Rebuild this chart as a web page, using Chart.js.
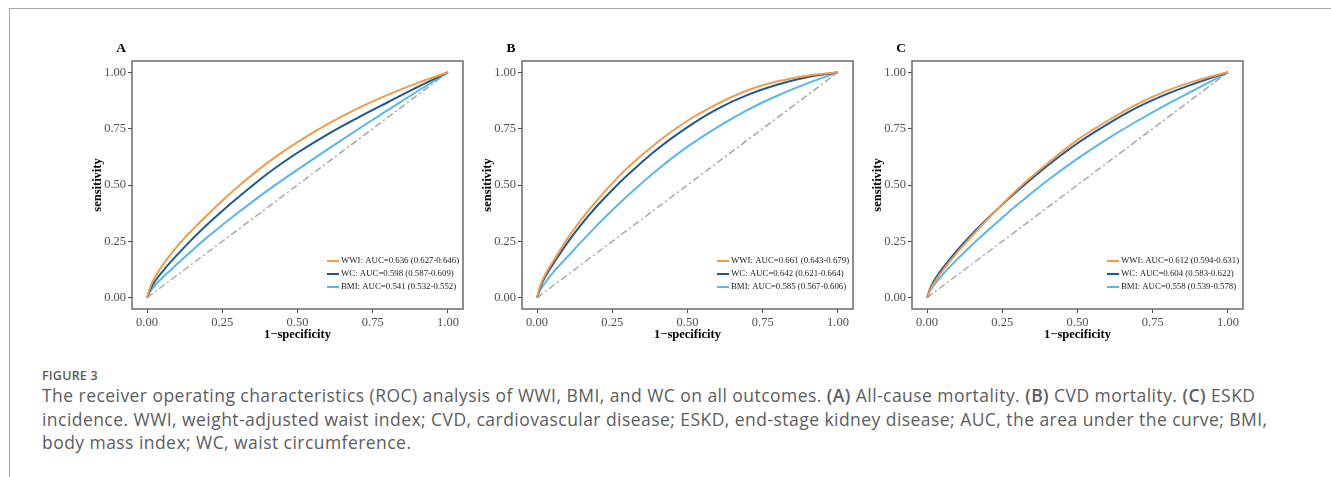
<!DOCTYPE html>
<html>
<head>
<meta charset="utf-8">
<script src="https://cdn.jsdelivr.net/npm/chart.js@4.4.1/dist/chart.umd.min.js"></script>
<style>
  body { margin: 0; background: #fff; width: 1331px; height: 477px; overflow: hidden; position: relative; }
  .frame { position: absolute; left: 9px; top: 8px; width: 1340px; height: 480px; border-top: 1.5px solid #a8a8a8; border-left: 1.5px solid #a8a8a8; }
  .panel { position: absolute; top: 38px; }
  .cap-head { position: absolute; left: 42px; top: 367px; font-family: "Open Sans", sans-serif; font-size: 12.5px; font-weight: 600; color: #58595b; letter-spacing: 0.2px; }
  .cap { position: absolute; left: 42px; top: 384px; white-space: nowrap; font-family: "Open Sans", sans-serif; font-size: 17.5px; letter-spacing: 0.45px; line-height: 23.5px; color: #5b5c5e; }
  .cap b { font-weight: 600; }
</style>
</head>
<body>
<div class="frame"></div>
<canvas id="chartA" class="panel" style="left:85px" width="388" height="307"></canvas>
<canvas id="chartB" class="panel" style="left:475px" width="388" height="307"></canvas>
<canvas id="chartC" class="panel" style="left:865px" width="388" height="307"></canvas>
<div class="cap-head">FIGURE 3</div>
<div class="cap">The receiver operating characteristics (ROC) analysis of WWI, BMI, and WC on all outcomes. <b>(A)</b> All-cause mortality. <b>(B)</b> CVD mortality. <b>(C)</b> ESKD<br>incidence. WWI, weight-adjusted waist index; CVD, cardiovascular disease; ESKD, end-stage kidney disease; AUC, the area under the curve; BMI,<br>body mass index; WC, waist circumference.</div>
<script>
// false positive rate (1 - specificity) grid
var fprGrid = [0, 0.01, 0.03, 0.06, 0.1, 0.15, 0.2, 0.25, 0.3, 0.4, 0.5, 0.6, 0.7, 0.8, 0.9, 1];
var tickVals = [0, 0.25, 0.5, 0.75, 1];

// panel A - all-cause mortality
var wwiA = [0, 0.045, 0.10, 0.16, 0.228, 0.30, 0.367, 0.43, 0.49, 0.598, 0.69, 0.77, 0.84, 0.90, 0.953, 1];
var wcA  = [0, 0.035, 0.08, 0.13, 0.19, 0.26, 0.325, 0.385, 0.442, 0.55, 0.643, 0.725, 0.798, 0.867, 0.935, 1];
var bmiA = [0, 0.027, 0.06, 0.10, 0.15, 0.21, 0.268, 0.323, 0.375, 0.475, 0.568, 0.658, 0.746, 0.832, 0.917, 1];
var legendA = ["WWI: AUC=0.636 (0.627-0.646)", "WC: AUC=0.598 (0.587-0.609)", "BMI: AUC=0.541 (0.532-0.552)"];

// panel B - CVD mortality
var wwiB = [0, 0.05, 0.11, 0.175, 0.26, 0.352, 0.433, 0.507, 0.575, 0.69, 0.785, 0.86, 0.92, 0.96, 0.985, 1];
var wcB  = [0, 0.045, 0.10, 0.163, 0.242, 0.33, 0.408, 0.478, 0.543, 0.66, 0.757, 0.838, 0.90, 0.946, 0.979, 1];
var bmiB = [0, 0.032, 0.072, 0.122, 0.18, 0.252, 0.322, 0.388, 0.451, 0.568, 0.67, 0.757, 0.833, 0.897, 0.952, 1];
var legendB = ["WWI: AUC=0.661 (0.643-0.679)", "WC: AUC=0.642 (0.621-0.664)", "BMI: AUC=0.585 (0.567-0.606)"];

// panel C - ESKD incidence
var wwiC = [0, 0.035, 0.08, 0.135, 0.20, 0.275, 0.347, 0.415, 0.48, 0.595, 0.70, 0.785, 0.86, 0.92, 0.965, 1];
var wcC  = [0, 0.04, 0.09, 0.145, 0.21, 0.283, 0.35, 0.413, 0.473, 0.585, 0.685, 0.77, 0.845, 0.905, 0.955, 1];
var bmiC = [0, 0.03, 0.068, 0.115, 0.17, 0.235, 0.296, 0.355, 0.412, 0.52, 0.617, 0.705, 0.785, 0.86, 0.93, 1];
var legendC = ["WWI: AUC=0.612 (0.594-0.631)", "WC: AUC=0.604 (0.583-0.622)", "BMI: AUC=0.558 (0.539-0.578)"];

var colors = ["#F39A48", "#1C5893", "#57B6EA"];
var serif = "'Liberation Serif', 'Times New Roman', serif";

function toPoints(ys) {
  return fprGrid.map(function(x, i) { return { x: x, y: ys[i] }; });
}

// box around plot, panel letter and inner legend
var panelDecor = {
  id: 'panelDecor',
  afterDraw: function(chart) {
    var ctx = chart.ctx, a = chart.chartArea;
    ctx.save();
    ctx.strokeStyle = "#6b6b6b";
    ctx.lineWidth = 1.5;
    ctx.strokeRect(a.left, a.top, a.right - a.left, a.bottom - a.top);

    ctx.fillStyle = "#000";
    ctx.font = "bold 13.5px " + serif;
    ctx.textAlign = "center";
    ctx.textBaseline = "middle";
    ctx.fillText(chart.options.plugins.panelDecor.letter, a.left - 11, a.top - 12);

    ctx.font = "8.8px " + serif;
    ctx.textAlign = "left";
    chart.data.datasets.forEach(function(ds, i) {
      if (!ds.inLegend) return;
      var y = a.bottom - 48 + i * 13;
      var x0 = a.right - 136;
      ctx.strokeStyle = ds.borderColor;
      ctx.lineWidth = 2;
      ctx.beginPath();
      ctx.moveTo(x0, y);
      ctx.lineTo(x0 + 12, y);
      ctx.stroke();
      ctx.fillStyle = "#1a1a1a";
      ctx.fillText(ds.label, x0 + 14, y);
    });
    ctx.restore();
  }
};

function makePanel(id, letter, wwi, wc, bmi, labels) {
  var series = [wwi, wc, bmi];
  var datasets = series.map(function(ys, i) {
    return {
      label: labels[i],
      data: toPoints(ys),
      borderColor: colors[i],
      borderWidth: 2,
      pointRadius: 0,
      showLine: true,
      cubicInterpolationMode: 'monotone',
      inLegend: true
    };
  });
  datasets.push({
    label: "reference",
    data: [{ x: 0, y: 0 }, { x: 1, y: 1 }],
    borderColor: "#a3a3a3",
    borderWidth: 1.4,
    borderDash: [7, 3, 2, 3],
    pointRadius: 0,
    showLine: true,
    inLegend: false
  });

  var axisBase = {
    type: 'linear',
    min: -0.05,
    max: 1.05,
    afterBuildTicks: function(scale) {
      scale.ticks = tickVals.map(function(v) { return { value: v }; });
    },
    grid: { drawOnChartArea: false, drawTicks: true, tickLength: 4, color: "#4a4a4a", tickWidth: 1 },
    border: { display: false },
    ticks: {
      padding: 2,
      color: "#505050",
      font: { family: serif, size: 12.5 },
      callback: function(v) { return Number(v).toFixed(2); }
    }
  };

  return new Chart(document.getElementById(id), {
    type: 'scatter',
    data: { datasets: datasets },
    plugins: [panelDecor],
    options: {
      responsive: false,
      animation: false,
      devicePixelRatio: 1,
      layout: { padding: { top: 23, right: 10, left: 0, bottom: 0 } },
      plugins: {
        legend: { display: false },
        tooltip: { enabled: false },
        panelDecor: { letter: letter }
      },
      scales: {
        x: Object.assign({}, axisBase, {
          afterFit: function(s) { s.height = 36; },
          title: { display: true, text: "1\u2212specificity", color: "#000", padding: { top: 0, bottom: 3 }, font: { family: serif, size: 12.5, weight: 'bold' } }
        }),
        y: Object.assign({}, axisBase, {
          afterFit: function(s) { s.width = 47; },
          title: { display: true, text: "sensitivity", color: "#000", padding: { top: 5, bottom: 0 }, font: { family: serif, size: 12.5, weight: 'bold' } }
        })
      }
    }
  });
}

makePanel("chartA", "A", wwiA, wcA, bmiA, legendA);
makePanel("chartB", "B", wwiB, wcB, bmiB, legendB);
makePanel("chartC", "C", wwiC, wcC, bmiC, legendC);
</script>
</body>
</html>
